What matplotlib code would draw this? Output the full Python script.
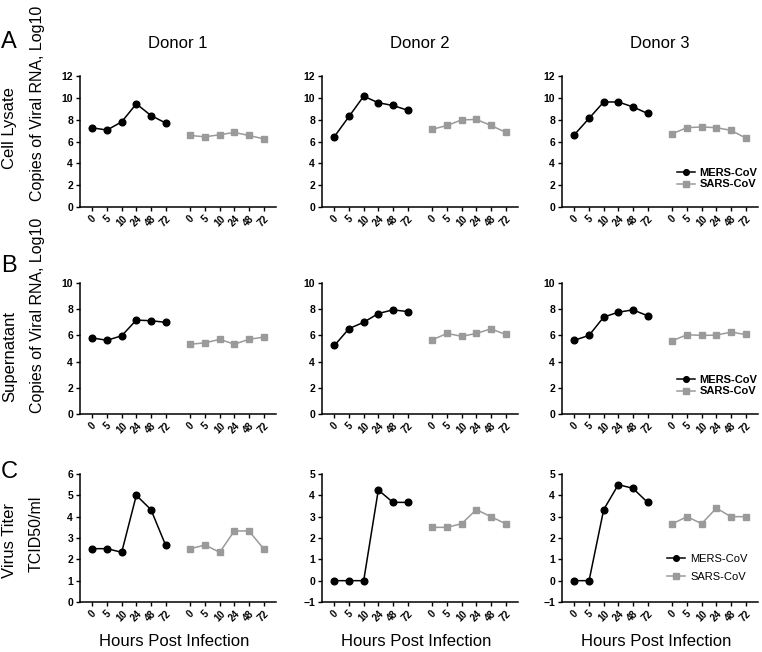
import matplotlib
matplotlib.use('Agg')
import matplotlib.pyplot as plt
import numpy as np

plt.rcParams['font.family'] = ['Liberation Sans', 'DejaVu Sans']

hours = ['0', '5', '10', '24', '48', '72']
donors = ['Donor 1', 'Donor 2', 'Donor 3']
series_names = ['MERS-CoV', 'SARS-CoV']

# Row A: cell lysate, copies of viral RNA (log10)
lysate_mers = [[7.25, 7.05, 7.8, 9.45, 8.38, 7.7],
               [6.45, 8.3, 10.15, 9.55, 9.3, 8.87],
               [6.63, 8.12, 9.62, 9.62, 9.17, 8.57]]
lysate_sars = [[6.55, 6.43, 6.62, 6.83, 6.55, 6.25],
               [7.12, 7.47, 7.98, 8.02, 7.47, 6.85],
               [6.72, 7.27, 7.33, 7.27, 7.02, 6.33]]
# Row B: supernatant
super_mers = [[5.8, 5.63, 5.97, 7.17, 7.12, 7.0],
              [5.23, 6.52, 7.0, 7.67, 7.95, 7.82],
              [5.63, 6.0, 7.4, 7.77, 7.95, 7.5]]
super_sars = [[5.33, 5.43, 5.7, 5.33, 5.7, 5.87],
              [5.67, 6.15, 5.93, 6.15, 6.5, 6.07],
              [5.6, 6.05, 6.0, 6.02, 6.25, 6.07]]
# Row C: virus titer (TCID50/ml)
titer_mers = [[2.5, 2.5, 2.33, 5.0, 4.33, 2.67],
              [0, 0, 0, 4.25, 3.67, 3.67],
              [0, 0, 3.33, 4.5, 4.33, 3.67]]
titer_sars = [[2.5, 2.67, 2.33, 3.33, 3.33, 2.5],
              [2.5, 2.5, 2.67, 3.33, 3.0, 2.67],
              [2.67, 3.0, 2.67, 3.4, 3.0, 3.0]]

row_data = [(lysate_mers, lysate_sars), (super_mers, super_sars), (titer_mers, titer_sars)]
row_ylims = [[(0, 12)] * 3, [(0, 10)] * 3, [(0, 6), (-1, 5), (-1, 5)]]
row_letters = ['A', 'B', 'C']
row_names = ['Cell Lysate', 'Supernatant', 'Virus Titer']
row_units = ['Copies of Viral RNA, Log10', 'Copies of Viral RNA, Log10', 'TCID50/ml']

W, H = 762, 652
fig = plt.figure(figsize=(W / 100, H / 100), dpi=100)

col_left = [80, 322, 562]
ax_w = 196
row_tb = [(76, 207), (283, 414), (474, 602)]

x_mers = np.arange(6)
x_sars = np.arange(6) + 6.7
xt = np.concatenate([x_mers, x_sars])
xtl = hours + hours

BLACK = '#000000'
GRAY = '#9a9a9a'

for r in range(3):
    top, bot = row_tb[r]
    mers_all, sars_all = row_data[r]
    for c in range(3):
        ax = fig.add_axes([col_left[c] / W, 1 - bot / H, ax_w / W, (bot - top) / H])
        ax.plot(x_mers, mers_all[c], color=BLACK, lw=1.1, marker='o', ms=4.8,
                label=series_names[0])
        ax.plot(x_sars, sars_all[c], color=GRAY, lw=1.1, marker='s', ms=4.3,
                label=series_names[1])
        lo, hi = row_ylims[r][c]
        ax.set_ylim(lo, hi)
        step = 2 if r < 2 else 1
        ax.set_yticks(np.arange(lo, hi + 0.01, step))
        ax.set_xlim(-0.85, 12.55)
        ax.set_xticks(xt)
        ax.set_xticklabels(xtl, rotation=45, ha='center', va='top',
                           fontsize=7, fontweight='bold')
        for t in ax.get_yticklabels():
            t.set_fontsize(7.5)
            t.set_fontweight('bold')
        ax.spines['top'].set_visible(False)
        ax.spines['right'].set_visible(False)
        ax.spines['left'].set_linewidth(1.1)
        ax.spines['bottom'].set_linewidth(1.1)
        ax.tick_params(axis='both', direction='out', length=3, width=1.0, pad=2)
        ax.patch.set_alpha(0)
        if c == 2:
            if r < 2:
                ax.legend(loc='lower right', bbox_to_anchor=(1.02, 0.1),
                          frameon=False, prop={'weight': 'bold', 'size': 8},
                          handlelength=1.6, handletextpad=0.4, labelspacing=0.15,
                          borderaxespad=0.0, markerscale=0.85)
            else:
                ax.legend(loc='lower right', bbox_to_anchor=(0.97, 0.12),
                          frameon=False, prop={'size': 8},
                          handlelength=1.6, handletextpad=0.5, labelspacing=0.75,
                          borderaxespad=0.0, markerscale=0.85)
        if r == 0:
            fig.text((col_left[c] + ax_w / 2) / W, 1 - 43 / H, donors[c],
                     ha='center', va='center', fontsize=12)
        if r == 2:
            fig.text((col_left[c] + ax_w / 2 - 4) / W, 1 - 641 / H, 'Hours Post Infection',
                     ha='center', va='center', fontsize=12)

# Row annotations
letter_y = [42, 266, 472]
name_y = [128, 357, 540]
unit_y = [103, 315, 534]
for r in range(3):
    fig.text(9 / W, 1 - letter_y[r] / H, row_letters[r], ha='center', va='center', fontsize=17)
    fig.text(10 / W, 1 - name_y[r] / H, row_names[r], ha='center', va='center',
             rotation=90, fontsize=12)
    fig.text((38 if r < 2 else 36) / W, 1 - unit_y[r] / H, row_units[r], ha='center',
             va='center', rotation=90, fontsize=11.5)

fig.savefig('out.png', dpi=100)
